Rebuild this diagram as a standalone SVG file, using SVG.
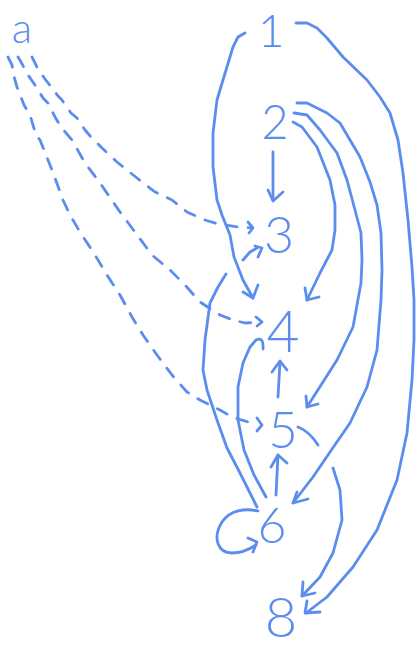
<svg xmlns="http://www.w3.org/2000/svg" width="419" height="650" viewBox="0 0 419 650">
<style>
.e{fill:none;stroke:#5b8def;stroke-width:2.8;stroke-linecap:round;stroke-linejoin:round}
.d{stroke-dasharray:11 11}
.t{font-family:Lato,"Open Sans","Liberation Sans",sans-serif;font-weight:300;fill:#5b8def;text-anchor:middle}
</style>
<rect width="419" height="650" fill="#fff"/>
<g id="connectors">
  <g id="e-a-3"><path class="e d" d="M32,57 L38,69 L45,79 L52,88 L58,96 L62,100 L71,113 L77,118 L85,130 L91,137 L102,148 L117,162 L137,178 L155,192 L172,200 L187,212 L205,220 L218,224 L238,227 L252,228"/><path class="e" d="M248,222 L253,228 L249,233"/></g>
  <g id="e-a-4"><path class="e d" d="M18,57 L21,62 L28,75 L35,85 L43,98 L48,103 L55,117 L61,127 L72,140 L85,163 L100,183 L120,212 L132,228 L152,255 L170,270 L185,285 L200,302 L220,315 L233,320 L245,323 L258,322"/><path class="e" d="M256,317 L262,322 L257,326"/></g>
  <g id="e-a-5"><path class="e d" d="M8,57 L12,65 L13,73 L17,87 L24,105 L30,115 L36,135 L40,140 L52,170 L63,200 L70,215 L80,232 L95,255 L107,275 L120,295 L132,317 L143,335 L157,355 L172,375 L187,392 L200,400 L220,410 L232,417 L258,425"/><path class="e" d="M257,418 L262,425 L257,431"/></g>
  <g id="e-1-4"><path class="e" d="M245,33 L238,37 L233,47 L223,80 L217,100 L213,133 L213,167 L217,200 L222,215 L230,235 L234,257 L243,280 L253,298"/><path class="e" d="M243,292 L253,298 L258,285"/></g>
  <g id="e-1-8"><path class="e" d="M296,23 L307,23 L317,28 L327,38 L343,57 L367,80 L380,97 L390,113 L398,140 L403,173 L408,220 L412,267 L414,300 L414,340 L412,380 L407,433 L397,480 L377,530 L353,567 L327,597 L306,613"/><path class="e" d="M307,601 L305,613 L320,612"/></g>
  <g id="e-2-3"><path class="e" d="M273,152 L273,200"/><path class="e" d="M268,190 L273,201 L283,192"/></g>
  <g id="e-2-4"><path class="e" d="M293,122 L302,127 L317,147 L330,180 L335,205 L335,230 L332,250 L320,273 L307,300"/><path class="e" d="M305,288 L307,300 L319,297"/></g>
  <g id="e-2-5"><path class="e" d="M294,113 L307,115 L320,130 L337,153 L347,180 L355,210 L361,233 L362,260 L361,283 L353,327 L337,360 L307,407"/><path class="e" d="M306,396 L307,407 L318,404"/></g>
  <g id="e-2-6"><path class="e" d="M297,103 L307,103 L327,113 L340,123 L350,140 L360,157 L370,182 L377,205 L381,233 L382,270 L381,300 L377,350 L367,387 L350,423 L330,452 L313,477 L293,503"/><path class="e" d="M297,492 L293,503 L308,499"/></g>
  <g id="e-5-4"><path class="e" d="M278,397 L280,362"/><path class="e" d="M272,372 L280,361 L287,370"/></g>
  <g id="e-5-8"><path class="e" d="M298,427 Q309,431 318,445"/><path class="e" d="M333,468 L340,490 L342,520 L333,553 L320,577 L302,596"/><path class="e" d="M303,582 L302,596 L315,593"/></g>
  <g id="e-6-3"><path class="e" d="M257,507 L240,473 L227,448 L217,420 L207,390 L203,370 L205,340 L210,303 L218,287 L226,274"/><path class="e" d="M243,260 L250,252 L257,248"/><path class="e" d="M255,246 L262,248 L258,257"/></g>
  <g id="e-6-4"><path class="e" d="M266,497 L254,475 L244,450 L238,420 L238,387 L243,363 L250,347 L256,340 Q264,336 263,349"/></g>
  <g id="e-6-5"><path class="e" d="M276,495 L278,455"/><path class="e" d="M271,467 L278,455 L287,463"/></g>
  <g id="e-6-6"><path class="e" d="M258,511 C245,508 230,510 222,522 C212,538 218,553 232,553 C242,553 250,549 256,545"/><path class="e" d="M248,538 L257,542 L253,552"/></g>
</g>
<g id="node-a"><text class="t" x="22" y="43" font-size="42">a</text></g>
<g id="node-1"><text class="t" x="271" y="47" font-size="46">1</text></g>
<g id="node-2"><text class="t" x="275" y="139" font-size="47">2</text></g>
<g id="node-3"><text class="t" x="279" y="253" font-size="52">3</text></g>
<g id="node-4"><text class="t" x="283" y="352" font-size="57">4</text></g>
<g id="node-5"><text class="t" x="283" y="448" font-size="51">5</text></g>
<g id="node-6"><text class="t" x="272" y="543" font-size="50">6</text></g>
<g id="node-8"><text class="t" x="281" y="637" font-size="56">8</text></g>
</svg>
